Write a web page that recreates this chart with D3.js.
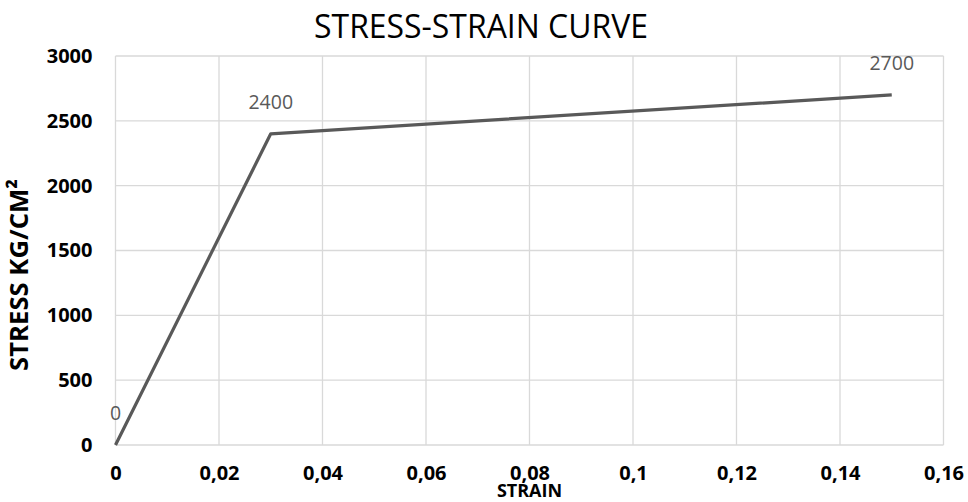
<!DOCTYPE html>
<html>
<head>
<meta charset="utf-8">
<script src="https://cdn.jsdelivr.net/npm/d3@7"></script>
<style>
  html, body { margin: 0; padding: 0; background: #fff; }
  svg { display: block; }
</style>
</head>
<body>
<svg id="chart" width="968" height="502"></svg>
<script>
// Stress-strain curve of steel: elastic branch then hardening branch
const strain = [0, 0.03, 0.15];
const stress = [0, 2400, 2700];
const xTicks = [0, 0.02, 0.04, 0.06, 0.08, 0.1, 0.12, 0.14, 0.16];
const yTicks = [0, 500, 1000, 1500, 2000, 2500, 3000];
const titleText = "STRESS-STRAIN CURVE";
const xTitle = "STRAIN";
const yTitle = "STRESS KG/CM²";

const W = 968, H = 502;
const margin = { left: 115.5, right: 24.5, top: 56, bottom: 57 };
const svg = d3.select("#chart");
const font = "'Open Sans', 'Noto Sans', sans-serif";

const x = d3.scaleLinear().domain([0, 0.16]).range([margin.left, W - margin.right]);
const y = d3.scaleLinear().domain([0, 3000]).range([H - margin.bottom, margin.top]);

const fmtX = d => d === 0 ? "0" : String(d).replace(".", ",");

// Scale a text's font size so it spans the given length
function fitWidth(sel, target, base) {
  const len = sel.node().getComputedTextLength();
  sel.attr("font-size", base * target / len);
}

// Gridlines
const grid = svg.append("g");
grid.selectAll("line.v").data(xTicks).join("line")
  .attr("x1", d => x(d)).attr("x2", d => x(d))
  .attr("y1", y(3000)).attr("y2", y(0))
  .attr("stroke", "#d9d9d9").attr("stroke-width", 1.3);
grid.selectAll("line.h").data(yTicks).join("line")
  .attr("x1", x(0)).attr("x2", x(0.16))
  .attr("y1", d => y(d)).attr("y2", d => y(d))
  .attr("stroke", "#d9d9d9").attr("stroke-width", 1.3);

// Axes (labels only; the grid provides the lines)
const xAxis = svg.append("g")
  .attr("transform", `translate(0,${y(0)})`)
  .call(d3.axisBottom(x).tickValues(xTicks).tickFormat(fmtX).tickSize(0).tickPadding(21));
xAxis.select(".domain").remove();
xAxis.selectAll("text")
  .attr("font-family", font).attr("font-weight", "bold")
  .attr("font-size", 20).attr("fill", "#000");

const yAxis = svg.append("g")
  .attr("transform", `translate(${x(0)},0)`)
  .call(d3.axisLeft(y).tickValues(yTicks).tickFormat(d3.format("d")).tickSize(0).tickPadding(23));
yAxis.select(".domain").remove();
yAxis.selectAll("text")
  .attr("font-family", font).attr("font-weight", "bold")
  .attr("font-size", 20).attr("fill", "#000");

// Curve
const pts = strain.map((s, i) => [s, stress[i]]);
svg.append("path")
  .datum(pts)
  .attr("fill", "none")
  .attr("stroke", "#595959")
  .attr("stroke-width", 3.2)
  .attr("stroke-linejoin", "round")
  .attr("d", d3.line().x(d => x(d[0])).y(d => y(d[1])));

// Data labels
svg.append("g").selectAll("text").data(pts).join("text")
  .attr("x", d => x(d[0]))
  .attr("y", d => y(d[1]) - 32)
  .attr("dy", "0.35em")
  .attr("text-anchor", "middle")
  .attr("font-family", font)
  .attr("font-size", 19.5)
  .attr("fill", "#595959")
  .text(d => d[1]);

// Title
const title = svg.append("text")
  .attr("x", 481)
  .attr("y", 38)
  .attr("text-anchor", "middle")
  .attr("font-family", font)
  .attr("font-size", 30)
  .attr("fill", "#000")
  .text(titleText);
fitWidth(title, 334, 30);

// Axis titles
svg.append("text")
  .attr("x", (x(0) + x(0.16)) / 2)
  .attr("y", 497)
  .attr("text-anchor", "middle")
  .attr("font-family", font)
  .attr("font-weight", "bold")
  .attr("font-size", 18)
  .attr("fill", "#000")
  .text(xTitle);

const yT = svg.append("text")
  .attr("transform", `translate(28,275) rotate(-90)`)
  .attr("text-anchor", "middle")
  .attr("font-family", font)
  .attr("font-weight", "bold")
  .attr("font-size", 22)
  .attr("fill", "#000")
  .text(yTitle);
fitWidth(yT, 192, 22);
</script>
</body>
</html>
